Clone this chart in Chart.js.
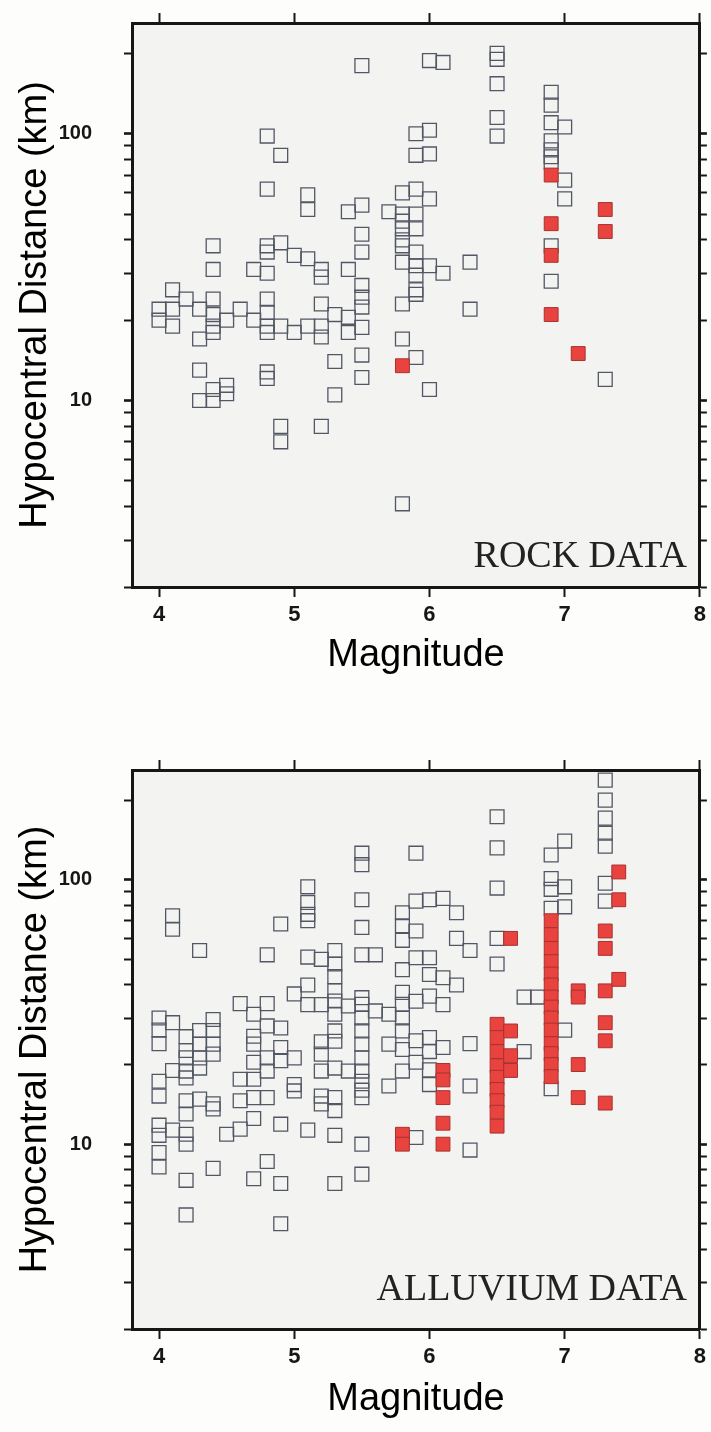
<!DOCTYPE html>
<html>
<head>
<meta charset="utf-8">
<title>Rock / Alluvium data</title>
<script src="https://cdn.jsdelivr.net/npm/chart.js@4.4.1/dist/chart.umd.min.js"></script>
<style>
  html, body { margin: 0; padding: 0; background: #fdfdfc; }
  .panel { position: absolute; left: 0; width: 711px; }
  #rockWrap { top: 0; height: 730px; }
  #alluvWrap { top: 730px; height: 702px; }
</style>
</head>
<body>
<div class="panel" id="rockWrap"><canvas id="rockChart"></canvas></div>
<div class="panel" id="alluvWrap"><canvas id="alluvChart"></canvas></div>
<script>
// ─── 축 ──────────────────────────────────────────────────────────────────────
const MAG_TICKS = [4, 5, 6, 7, 8];
const DIST_TICKS = [2, 3, 4, 5, 6, 7, 8, 9, 10, 20, 30, 40, 50, 60, 70, 80, 90, 100, 200];
const DIST_LABELS = [10, 100];

// ─── ROCK DATA (magnitude column -> distances, km) ──────────────────────────
const rockOpenMag = [4.0, 4.1, 4.2, 4.3, 4.4, 4.5, 4.6, 4.7, 4.8, 4.9, 5.0, 5.1, 5.2, 5.3, 5.4, 5.5, 5.7, 5.8, 5.9, 6.0, 6.1, 6.3, 6.5, 6.9, 7.0, 7.3];
const rockOpenDist = [
  [22, 20],
  [26, 22, 19],
  [24],
  [22, 17, 13, 10],
  [38, 31, 24, 21, 19, 18, 11, 10],
  [20, 11.4, 10.6],
  [22],
  [31, 20],
  [98, 62, 38, 36, 30, 24, 21.4, 19, 18, 12.8, 12.1],
  [83, 39, 19, 8, 7],
  [35, 18],
  [59, 52, 34, 19],
  [31, 29, 23, 19, 17.3, 8],
  [21, 14, 10.5],
  [51, 31, 20.5, 18],
  [180, 54, 42, 36, 27, 24.4, 22.4, 18.8, 14.8, 12.2],
  [51],
  [60, 50, 47, 44, 40, 38, 33, 23, 17, 4.1],
  [100, 83, 62, 50, 44, 36, 32, 29.5, 26, 25, 14.5],
  [188, 103, 84, 57, 32, 11],
  [185, 30],
  [33, 22],
  [200, 190, 154, 115, 98],
  [143, 128, 110, 94, 87, 82, 78, 38, 28],
  [106, 67, 57],
  [12],
];
const rockRedMag = [5.8, 6.9, 7.1, 7.3];
const rockRedDist = [
  [13.5],
  [70, 46, 35, 21],
  [15],
  [52, 43],
];

// ─── ALLUVIUM DATA ──────────────────────────────────────────────────────────
const alluvOpenMag = [4.0, 4.1, 4.2, 4.3, 4.4, 4.5, 4.6, 4.7, 4.8, 4.9, 5.0, 5.1, 5.2, 5.3, 5.4, 5.5, 5.6, 5.7, 5.8, 5.9, 6.0, 6.1, 6.2, 6.3, 6.5, 6.7, 6.8, 6.9, 7.0, 7.3];
const alluvOpenDist = [
  [30, 27, 24, 17.3, 15.2, 11.8, 10.8, 9.3, 8.2],
  [73, 65, 28.8, 19, 11.3],
  [25.5, 22.6, 21.2, 18.9, 17.8, 14.6, 13, 10.9, 10, 7.3, 5.4],
  [54, 26.9, 23.9, 21.2, 19.4, 14.8],
  [29.6, 26.9, 23.9, 21.9, 14.2, 13.6, 8.1],
  [10.9],
  [34, 17.6, 14.6, 11.4],
  [31, 25.6, 23.9, 20.4, 17.6, 15, 12.5, 7.4],
  [52, 34, 28, 21.2, 18.9, 15, 8.6],
  [68, 27.5, 23.2, 20.7, 11.9, 7.1, 5],
  [37, 21.2, 16.8, 15.9],
  [94, 82, 74, 70, 51, 40, 33.7, 11.3],
  [50, 33.7, 24.4, 21.9, 18.9, 15.2, 14.2],
  [54, 48, 43, 38, 34.8, 31, 26.8, 24.5, 19.4, 15, 13.4, 10.8, 7.1],
  [33.3, 18.9],
  [126, 114, 84, 66, 52, 35.8, 33.8, 30, 26.8, 23.9, 21.2, 18.9, 17.3, 16, 15, 10, 7.7],
  [52, 31.9],
  [31, 23.9, 16.6],
  [75, 67, 59, 45.7, 37.5, 33.8, 30, 26.8, 22.8, 18.9],
  [126, 83, 64, 50.7, 34.7, 24.6, 20.4, 10.6],
  [84, 50.7, 43.8, 36.3, 25.3, 22.4, 19.1, 16.8],
  [85, 42.6, 33.7, 23.2],
  [75, 60, 40],
  [54, 24, 16.6, 9.5],
  [173, 132, 93, 60, 48],
  [36, 22.4],
  [36],
  [124, 101, 92, 78, 16.2],
  [140, 94, 79, 27],
  [238, 200, 171, 150, 134, 97, 83],
];
const alluvRedMag = [5.8, 6.1, 6.5, 6.6, 6.9, 7.1, 7.3, 7.4];
const alluvRedDist = [
  [10.9, 10],
  [19, 17.5, 15, 12, 10],
  [28.4, 25.3, 22.4, 19.8, 17.9, 16.1, 14.6, 13.2, 11.7],
  [60, 26.8, 21.6, 19],
  [70, 62, 55, 49, 44, 40, 36, 33, 30, 27, 24, 22, 20, 18],
  [38, 36, 20, 15],
  [64, 55, 38, 28.8, 24.6, 14.3],
  [107, 84, 42],
];

// ─── 스타일 ──────────────────────────────────────────────────────────────────
const INK = '#161616';
const SANS = "'Liberation Sans', Arial, sans-serif";
const SERIF = "'Liberation Serif', 'Times New Roman', serif";

const toPoints = (mags, dists) => mags.flatMap((m, i) => dists[i].map((d) => ({ x: m, y: d })));
const setTicks = (list) => (s) => { s.ticks = list.map((v) => ({ value: v })); };

// 축 크기를 고정하고 라벨 때문에 생기는 여백은 없앤다
const fixSize = (prop, size) => (s) => {
  s[prop] = size;
  s.paddingTop = 0;
  s.paddingBottom = 0;
  s.paddingLeft = 0;
  s.paddingRight = 0;
};

function makeChart(canvasId, openPts, redPts, box) {
  const tickGrid = (len) => ({
    drawOnChartArea: false,
    drawTicks: true,
    tickLength: len,
    tickColor: INK,
    tickWidth: (c) => (c.tick && DIST_LABELS.includes(c.tick.value) ? 2.6 : 2),
  });
  const border = { display: true, color: INK, width: 3 };

  const plotBg = {
    id: 'plotBg',
    beforeDraw(chart) {
      const { ctx, chartArea: a } = chart;
      ctx.save();
      ctx.fillStyle = '#f3f3f1';
      ctx.fillRect(a.left, a.top, a.right - a.left, a.bottom - a.top);
      ctx.restore();
    },
  };
  const panelLabel = {
    id: 'panelLabel',
    afterDatasetsDraw(chart) {
      const { ctx, chartArea: a } = chart;
      ctx.save();
      ctx.font = `38px ${SERIF}`;
      ctx.fillStyle = '#222';
      ctx.textAlign = 'right';
      ctx.textBaseline = 'alphabetic';
      ctx.fillText(box.label, a.right - 13, a.bottom - box.labelLift);
      ctx.restore();
    },
  };

  return new Chart(document.getElementById(canvasId), {
    type: 'scatter',
    data: {
      datasets: [
        {
          label: 'red',
          data: redPts,
          order: 0,
          pointStyle: 'rect',
          pointRadius: 9.8,
          backgroundColor: '#e8433f',
          borderColor: '#a8322e',
          borderWidth: 1,
        },
        {
          label: 'open',
          data: openPts,
          order: 1,
          pointStyle: 'rect',
          pointRadius: 9.8,
          backgroundColor: 'rgba(0,0,0,0)',
          borderColor: '#525764',
          borderWidth: 1.3,
        },
      ],
    },
    options: {
      responsive: true,
      maintainAspectRatio: false,
      animation: false,
      layout: { padding: 0 },
      plugins: { legend: { display: false }, tooltip: { enabled: false } },
      scales: {
        x: {
          type: 'linear', position: 'bottom', min: 3.8, max: 8,
          afterBuildTicks: setTicks(MAG_TICKS),
          afterFit: fixSize('height', box.bottomH),
          border,
          grid: tickGrid(10),
          ticks: { color: INK, padding: 5, autoSkip: false, maxRotation: 0, font: { family: SANS, size: 22, weight: 'bold' } },
          title: {
            display: true, text: 'Magnitude', color: '#000',
            font: { family: SANS, size: 38 }, padding: { top: 0, bottom: box.titlePad },
          },
        },
        x2: {
          type: 'linear', position: 'top', min: 3.8, max: 8,
          afterBuildTicks: setTicks(MAG_TICKS),
          afterFit: fixSize('height', box.topH),
          border,
          grid: tickGrid(10),
          ticks: { display: false, autoSkip: false },
        },
        y: {
          type: 'logarithmic', position: 'left', min: 2, max: 260,
          afterBuildTicks: setTicks(DIST_TICKS),
          afterFit: fixSize('width', 132),
          border,
          grid: tickGrid(8),
          ticks: {
            color: INK, padding: 32, autoSkip: false,
            font: { family: SANS, size: 20, weight: 'bold' },
            callback: (v) => (DIST_LABELS.includes(v) ? String(v) : ''),
          },
          title: {
            display: true, text: 'Hypocentral Distance (km)', color: '#000',
            font: { family: SANS, size: 38 }, padding: { top: 13, bottom: 0 },
          },
        },
        y2: {
          type: 'logarithmic', position: 'right', min: 2, max: 260,
          afterBuildTicks: setTicks(DIST_TICKS),
          afterFit: fixSize('width', 10),
          border,
          grid: tickGrid(7),
          ticks: { display: false, autoSkip: false },
        },
      },
    },
    plugins: [plotBg, panelLabel],
  });
}

// ─── 초기화 ──────────────────────────────────────────────────────────────────
makeChart('rockChart', toPoints(rockOpenMag, rockOpenDist), toPoints(rockRedMag, rockRedDist), {
  topH: 23, bottomH: 143, titlePad: 52, label: 'ROCK DATA', labelLift: 20,
});
makeChart('alluvChart', toPoints(alluvOpenMag, alluvOpenDist), toPoints(alluvRedMag, alluvRedDist), {
  topH: 40, bottomH: 103, titlePad: 10, label: 'ALLUVIUM DATA', labelLift: 29,
});
</script>
</body>
</html>
